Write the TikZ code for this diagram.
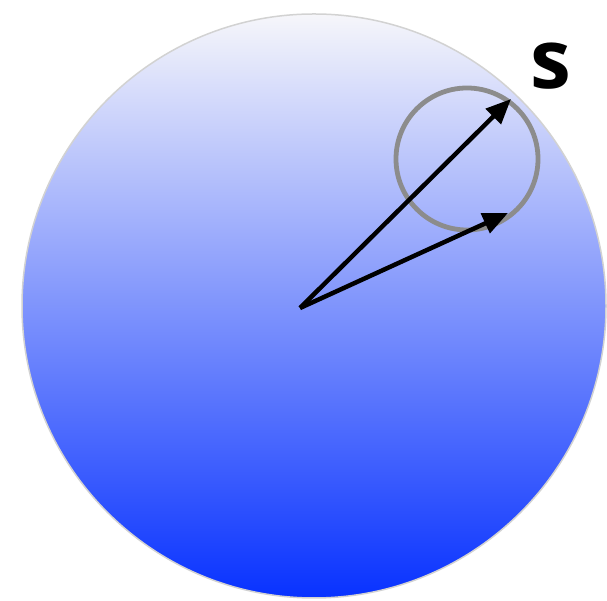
\documentclass[tikz,border=0pt]{standalone}
\usepackage{fontspec}
\newfontfamily\labelfont{Open Sans}
\usepackage{tikz}
\usetikzlibrary{arrows.meta,positioning}

\begin{document}
\begin{tikzpicture}[
  x=1pt, y=1pt,
  sphere/.style={circle, minimum size=584pt, inner sep=0pt, draw=gray!35, line width=1.5pt,
    top color={rgb,255:red,246;green,246;blue,250}, bottom color={rgb,255:red,8;green,50;blue,255}},
  ring/.style={circle, minimum size=142pt, inner sep=0pt, draw=gray!90, line width=4.8pt},
  vec/.style={-{Triangle[length=25pt,width=21pt]}, line width=4.5pt, black},
  lbl/.style={font=\labelfont\bfseries\fontsize{82}{82}\selectfont}
]
\useasboundingbox (0,0) rectangle (607,601);
\node[sphere] (ball) at (314,295) {};
\node[ring] (nbhd) at (467,442) {};

\coordinate (o) at (300,293);
\coordinate (t1) at (511,502);
\coordinate (t2) at (508,388);

\draw[vec] (o) -- (t1);
\draw[vec] (o) -- (t2);

\node[lbl] (s) at (551,535) {s};
\end{tikzpicture}
\end{document}
